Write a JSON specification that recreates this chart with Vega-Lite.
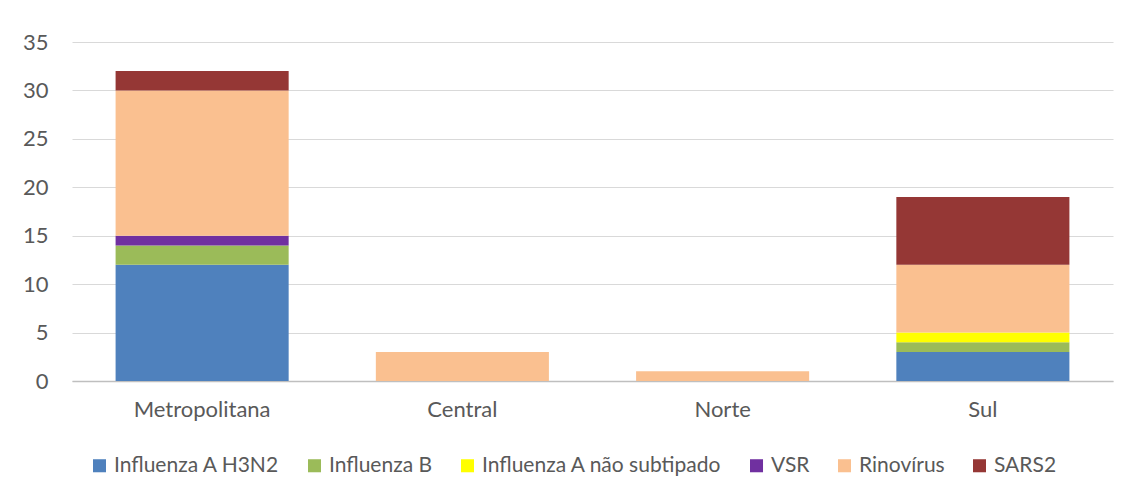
{
  "$schema": "https://vega.github.io/schema/vega-lite/v6.json",
  "width": 1041,
  "height": 339,
  "autosize": {"type": "none"},
  "padding": {"left": 72, "top": 42, "right": 17, "bottom": 114},
  "background": "white",
  "config": {
    "view": {"stroke": null},
    "font": "Lato",
    "axis": {"labelFont": "Lato", "labelColor": "#595959", "labelFontSize": 22}
  },
  "data": {
    "values": [
      {"regiao": "Metropolitana", "virus": "Influenza A H3N2", "ord": 1, "n": 12},
      {"regiao": "Metropolitana", "virus": "Influenza B", "ord": 2, "n": 2},
      {"regiao": "Metropolitana", "virus": "VSR", "ord": 4, "n": 1},
      {"regiao": "Metropolitana", "virus": "Rinovírus", "ord": 5, "n": 15},
      {"regiao": "Metropolitana", "virus": "SARS2", "ord": 6, "n": 2},
      {"regiao": "Central", "virus": "Rinovírus", "ord": 5, "n": 3},
      {"regiao": "Norte", "virus": "Rinovírus", "ord": 5, "n": 1},
      {"regiao": "Sul", "virus": "Influenza A H3N2", "ord": 1, "n": 3},
      {"regiao": "Sul", "virus": "Influenza B", "ord": 2, "n": 1},
      {"regiao": "Sul", "virus": "Influenza A não subtipado", "ord": 3, "n": 1},
      {"regiao": "Sul", "virus": "Rinovírus", "ord": 5, "n": 7},
      {"regiao": "Sul", "virus": "SARS2", "ord": 6, "n": 7}
    ]
  },
  "mark": {"type": "bar"},
  "encoding": {
    "x": {
      "field": "regiao", "type": "nominal",
      "sort": ["Metropolitana", "Central", "Norte", "Sul"],
      "scale": {"paddingInner": 0.335, "paddingOuter": 0.1675},
      "axis": {"title": null, "labelAngle": 0, "ticks": false, "domainColor": "#BFBFBF", "domainWidth": 1.5, "labelPadding": 18}
    },
    "y": {
      "field": "n", "type": "quantitative", "stack": "zero",
      "scale": {"domain": [0, 35]},
      "axis": {"title": null, "values": [0,5,10,15,20,25,30,35], "ticks": false, "domain": false, "gridColor": "#D9D9D9", "gridWidth": 1.2, "labelPadding": 24}
    },
    "color": {
      "field": "virus", "type": "nominal",
      "scale": {
        "domain": ["Influenza A H3N2", "Influenza B", "Influenza A não subtipado", "VSR", "Rinovírus", "SARS2"],
        "range": ["#4F81BD", "#9BBB59", "#FFFF00", "#7030A0", "#FAC090", "#953735"]
      },
      "legend": {
        "title": null, "orient": "none", "direction": "horizontal", "columns": 6,
        "legendX": 17, "legendY": 413,
        "symbolType": "square", "symbolSize": 170, "symbolStrokeWidth": 0,
        "labelFont": "Lato", "labelFontSize": 21, "labelColor": "#595959", "labelLimit": 0,
        "columnPadding": 24, "labelOffset": 4
      }
    },
    "order": {"field": "ord", "type": "quantitative"}
  }
}
